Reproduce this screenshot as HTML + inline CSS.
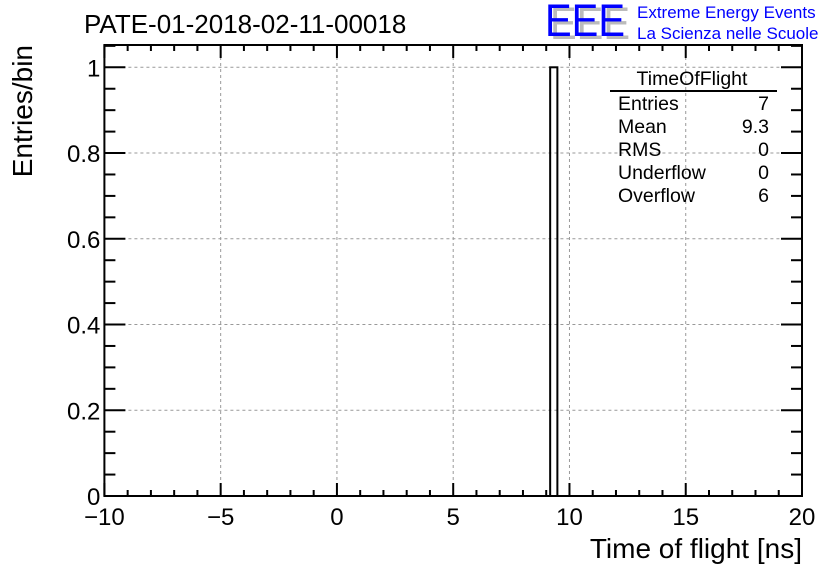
<!DOCTYPE html>
<html><head><meta charset="utf-8"><style>
body{margin:0;background:#fff;}
svg{display:block;font-family:"Liberation Sans",sans-serif;}
</style></head><body>
<svg id="c" width="836" height="572"></svg>
<script>
const binLow=[9.17];
const binHigh=[9.48];
const binValues=[1];
const xTicks=[-10,-5,0,5,10,15,20];
const yTicks=[0,0.2,0.4,0.6,0.8,1];
const yTickLabels=["0","0.2","0.4","0.6","0.8","1"];
const statLabels=["Entries","Mean","RMS","Underflow","Overflow"];
const statValues=["7","9.3","0","0","6"];

const L=104.4,R=802,T=45,B=496;
const xMin=-10,xMax=20,yMax=1;
const y1px=67.3;
const X=v=>L+(v-xMin)/(xMax-xMin)*(R-L);
const Y=v=>B-(v/yMax)*(B-y1px);
const svg=document.getElementById('c');
const NS='http://www.w3.org/2000/svg';
function mk(tag,attrs,parent){const e=document.createElementNS(NS,tag);for(const k in attrs)e.setAttribute(k,attrs[k]);(parent||svg).appendChild(e);return e;}

const grid=mk('g',{});


xTicks.forEach(v=>{if(v>xMin&&v<xMax)mk('line',{x1:X(v),x2:X(v),y1:T,y2:B,stroke:'#999','stroke-dasharray':'3,3','stroke-width':1},grid);});
yTicks.forEach(v=>{if(v>0)mk('line',{x1:L,x2:R,y1:Y(v),y2:Y(v),stroke:'#999','stroke-dasharray':'3,3','stroke-width':1},grid);});

binValues.forEach((v,i)=>{
  const r=mk('rect',{x:X(binLow[i]),y:Y(v),width:X(binHigh[i])-X(binLow[i]),height:B-Y(v),fill:'none',stroke:'#000','stroke-width':2});
  
  
});

const fr=mk('rect',{x:L,y:T,width:R-L,height:B-T,fill:'none',stroke:'#000','stroke-width':2});



const ax=mk('g',{stroke:'#000','stroke-width':2});


for(let v=xMin;v<=xMax;v+=1){const maj=(v%5===0);const len=maj?13:6;
  mk('line',{x1:X(v),x2:X(v),y1:B,y2:B-len},ax);mk('line',{x1:X(v),x2:X(v),y1:T,y2:T+len},ax);}
for(let k=0;k*0.05<=1.0001;k++){const v=k*0.05;const maj=(k%4===0);const len=maj?21:11;
  mk('line',{x1:L,x2:L+len,y1:Y(v),y2:Y(v)},ax);mk('line',{x1:R,x2:R-len,y1:Y(v),y2:Y(v)},ax);}
for(let k=21;k<=24;k++){const v=k*0.05;if(Y(v)>T){mk('line',{x1:L,x2:L+11,y1:Y(v),y2:Y(v)},ax);mk('line',{x1:R,x2:R-11,y1:Y(v),y2:Y(v)},ax);}}

xTicks.forEach(v=>{const t=mk('text',{x:X(v),y:B+29,'font-size':24,'text-anchor':'middle'});t.textContent=(v<0?'\u2212'+(-v):v);
  });
yTicks.forEach((v,i)=>{const t=mk('text',{x:L-4,y:Y(v)+9,'font-size':24,'text-anchor':'end'});t.textContent=yTickLabels[i];
  });

let t=mk('text',{x:802,y:558,'font-size':28,'text-anchor':'end'});t.textContent='Time of flight [ns]';

t=mk('text',{x:0,y:0,'font-size':28,'text-anchor':'end',transform:'translate(32,45) rotate(-90)'});t.textContent='Entries/bin';

t=mk('text',{x:84,y:33,'font-size':26});t.textContent='PATE-01-2018-02-11-00018';


const lg=mk('g',{});

t=mk('text',{x:550,y:39,'font-size':45,fill:'#bbb',textLength:80,lengthAdjust:'spacingAndGlyphs'},lg);t.textContent='EEE';
t=mk('text',{x:545,y:36,'font-size':45,fill:'#0000ff',textLength:80,lengthAdjust:'spacingAndGlyphs'},lg);t.textContent='EEE';
t=mk('text',{x:637,y:18,'font-size':17,fill:'#0000ff'},lg);t.textContent='Extreme Energy Events';
t=mk('text',{x:637,y:39,'font-size':17,fill:'#0000ff'},lg);t.textContent='La Scienza nelle Scuole';

const sb=mk('g',{});

t=mk('text',{x:692,y:85,'font-size':19.5,'text-anchor':'middle'},sb);t.textContent='TimeOfFlight';
mk('line',{x1:610,x2:777,y1:91,y2:91,stroke:'#000','stroke-width':2},sb);
statLabels.forEach((s,i)=>{const yy=110+i*23;
  let a=mk('text',{x:618,y:yy,'font-size':19.5},sb);a.textContent=s;
  a=mk('text',{x:769,y:yy,'font-size':19.5,'text-anchor':'end'},sb);a.textContent=statValues[i];});
</script>
</body></html>
